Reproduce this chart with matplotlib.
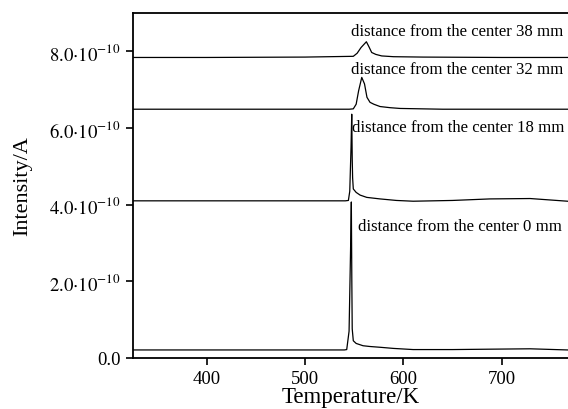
import matplotlib
matplotlib.use("Agg")
import matplotlib.pyplot as plt

plt.rcParams['font.family'] = ['Liberation Serif', 'DejaVu Serif']
plt.rcParams['mathtext.fontset'] = 'stix'

# Temperature (K) and intensity (A)
t_0mm = [325, 400, 450, 500, 540, 542.4, 544.8, 546.3, 547.1, 547.6, 548.0, 549.1, 552, 559, 566, 576.3, 590, 610, 650, 688, 729, 767]
i_0mm = [0.21, 0.21, 0.21, 0.21, 0.21, 0.22, 0.7, 2.8, 4.07, 2.0, 0.76, 0.45, 0.38, 0.32, 0.30, 0.28, 0.25, 0.22, 0.22, 0.23, 0.24, 0.21]

t_18mm = [325, 400, 500, 541, 544.1, 545.5, 546.8, 547.5, 548.0, 548.4, 549.1, 552, 556, 562.8, 576.3, 593, 610, 650, 688, 729, 767]
i_18mm = [4.10, 4.10, 4.10, 4.10, 4.11, 4.35, 5.5, 6.36, 5.2, 4.7, 4.41, 4.32, 4.25, 4.19, 4.15, 4.11, 4.09, 4.11, 4.15, 4.16, 4.09]

t_32mm = [325, 400, 500, 545, 549.1, 552, 554.5, 557.7, 560.5, 563, 566.1, 570, 576.3, 586.5, 596.7, 640, 700, 767]
i_32mm = [6.49, 6.49, 6.49, 6.49, 6.50, 6.62, 6.97, 7.32, 7.15, 6.80, 6.67, 6.62, 6.56, 6.53, 6.51, 6.49, 6.49, 6.49]

t_38mm = [325, 400, 500, 549.1, 553, 557, 562.4, 565, 567.8, 572, 578, 590, 620, 700, 767]
i_38mm = [7.84, 7.84, 7.85, 7.87, 7.95, 8.10, 8.25, 8.12, 7.97, 7.92, 7.88, 7.86, 7.85, 7.84, 7.84]

series = [
    (t_0mm, i_0mm, "distance from the center 0 mm"),
    (t_18mm, i_18mm, "distance from the center 18 mm"),
    (t_32mm, i_32mm, "distance from the center 32 mm"),
    (t_38mm, i_38mm, "distance from the center 38 mm"),
]
label_pos = [(553.5, 3.45), (547.5, 6.02), (547.0, 7.54), (547.0, 8.53)]

x_ticks = [400, 500, 600, 700]
y_ticks = [0, 2, 4, 6, 8]
y_tick_labels = ["0.0", r"$2.0{\cdot}10^{-10}$", r"$4.0{\cdot}10^{-10}$",
                 r"$6.0{\cdot}10^{-10}$", r"$8.0{\cdot}10^{-10}$"]

fig = plt.figure(figsize=(5.68, 4.10), dpi=100)
ax = fig.add_axes([133/568, 51/410, 1 - 133/568, 345/410])

for (t, i, lab), (lx, ly) in zip(series, label_pos):
    ax.plot(t, i, color='black', lw=0.9)
    ax.text(lx, ly, lab, fontsize=12.1, ha='left', va='center')

ax.set_xlim(325, 767.5)
ax.set_ylim(0, 9.0)
ax.set_xticks(x_ticks)
ax.set_xticklabels([str(v) for v in x_ticks])
ax.set_yticks(y_ticks)
ax.set_yticklabels(y_tick_labels)
ax.tick_params(direction='out', length=5, width=1.2, labelsize=13.5, pad=4)
ax.spines['right'].set_visible(False)
for s in ['left', 'bottom', 'top']:
    ax.spines[s].set_linewidth(1.3)
ax.set_xlabel("Temperature/K", fontsize=16.5, labelpad=-1)
ax.set_ylabel("Intensity/A", fontsize=16, labelpad=12)

fig.savefig("out.png", dpi=100)
